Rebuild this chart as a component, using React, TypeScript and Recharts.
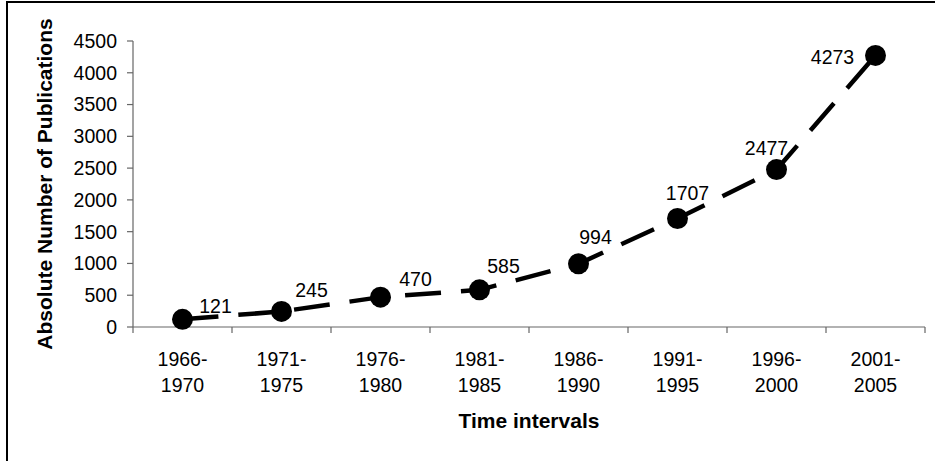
import React from "react";
import { LineChart, Line, XAxis, YAxis, Label, LabelList } from "recharts";

const categories = [
  "1966-1970",
  "1971-1975",
  "1976-1980",
  "1981-1985",
  "1986-1990",
  "1991-1995",
  "1996-2000",
  "2001-2005",
];
const publications = [121, 245, 470, 585, 994, 1707, 2477, 4273];
const yTicks = [0, 500, 1000, 1500, 2000, 2500, 3000, 3500, 4000, 4500];

// where each value label sits relative to its point (dx, dy to text centre)
const labelOffsets = [
  [33, -13],
  [30, -21],
  [35, -18],
  [24, -24],
  [17, -27],
  [10, -26],
  [-10, -22],
  [-43, 2],
];

const FONT = "'Liberation Sans', Arial, sans-serif";

const data = categories.map((c, i) => ({
  x: i + 0.5,
  period: c,
  count: publications[i],
}));

// ticks at integers are the divider marks, halves carry the category text
const xTickValues = Array.from({ length: categories.length * 2 + 1 }, (_, i) => i / 2);

const CategoryTick = (props: any) => {
  const { x, y, payload } = props;
  const v = payload.value;
  if (Number.isInteger(v)) {
    return <line x1={x} y1={y - 6} x2={x} y2={y} stroke="#666" strokeWidth={1.2} />;
  }
  const cat = categories[Math.floor(v)];
  const [from, to] = cat.split("-");
  return (
    <text fontFamily={FONT} fontSize={19.5} fill="#000" textAnchor="middle">
      <tspan x={x} y={y + 33}>
        {from}-
      </tspan>
      <tspan x={x} y={y + 59}>
        {to}
      </tspan>
    </text>
  );
};

const ValueLabel = (props: any) => {
  const { x, y, value, index } = props;
  const [dx, dy] = labelOffsets[index] || [0, -20];
  return (
    <text
      x={x + dx}
      y={y + dy + 7}
      textAnchor="middle"
      fontFamily={FONT}
      fontSize={19.5}
      fill="#000"
    >
      {value}
    </text>
  );
};

const YTitle = (props: any) => {
  const { viewBox } = props;
  const cx = viewBox.x + 37;
  const cy = viewBox.y + viewBox.height / 2;
  return (
    <text
      x={cx}
      y={cy}
      transform={`rotate(-90, ${cx}, ${cy})`}
      textAnchor="middle"
      dominantBaseline="central"
      fontFamily={FONT}
      fontSize={21}
      fontWeight="bold"
      fill="#000"
    >
      Absolute Number of Publications
    </text>
  );
};

export default function App() {
  return (
    <div
      style={{
        position: "absolute",
        left: 0,
        top: 0,
        width: 935,
        height: 461,
        background: "#fff",
        overflow: "hidden",
      }}
    >
      <div
        style={{
          position: "absolute",
          left: 6,
          top: 1,
          right: -4,
          bottom: -4,
          borderTop: "2px solid #000",
          borderLeft: "2px solid #000",
        }}
      />
      <div style={{ position: "absolute", left: 0, top: 0 }}>
        <LineChart
          width={935}
          height={461}
          data={data}
          margin={{ top: 41, right: 10, bottom: 28, left: 7 }}
        >
          <XAxis
            dataKey="x"
            type="number"
            domain={[0, categories.length]}
            ticks={xTickValues}
            interval={0}
            tickLine={false}
            tickSize={6}
            tickMargin={0}
            tick={<CategoryTick />}
            stroke="#666"
            strokeWidth={1.2}
            height={106}
          >
            <Label
              value="Time intervals"
              position="insideBottom"
              offset={5}
              fontFamily={FONT}
              fontSize={21}
              fontWeight="bold"
              fill="#000"
            />
          </XAxis>
          <YAxis
            domain={[0, 4500]}
            ticks={yTicks}
            interval={0}
            width={126}
            tickSize={6}
            tickMargin={10}
            stroke="#666"
            strokeWidth={1.2}
            tick={{ fill: "#000", fontFamily: FONT, fontSize: 19.5 }}
          >
            <Label content={<YTitle />} />
          </YAxis>
          <Line
            type="linear"
            dataKey="count"
            stroke="#000"
            strokeWidth={4.5}
            strokeDasharray="36 20"
            dot={{ r: 10.5, fill: "#000", stroke: "#000", strokeWidth: 0, strokeDasharray: "none" }}
            activeDot={false}
            isAnimationActive={false}
          >
            <LabelList dataKey="count" content={<ValueLabel />} />
          </Line>
        </LineChart>
      </div>
    </div>
  );
}
